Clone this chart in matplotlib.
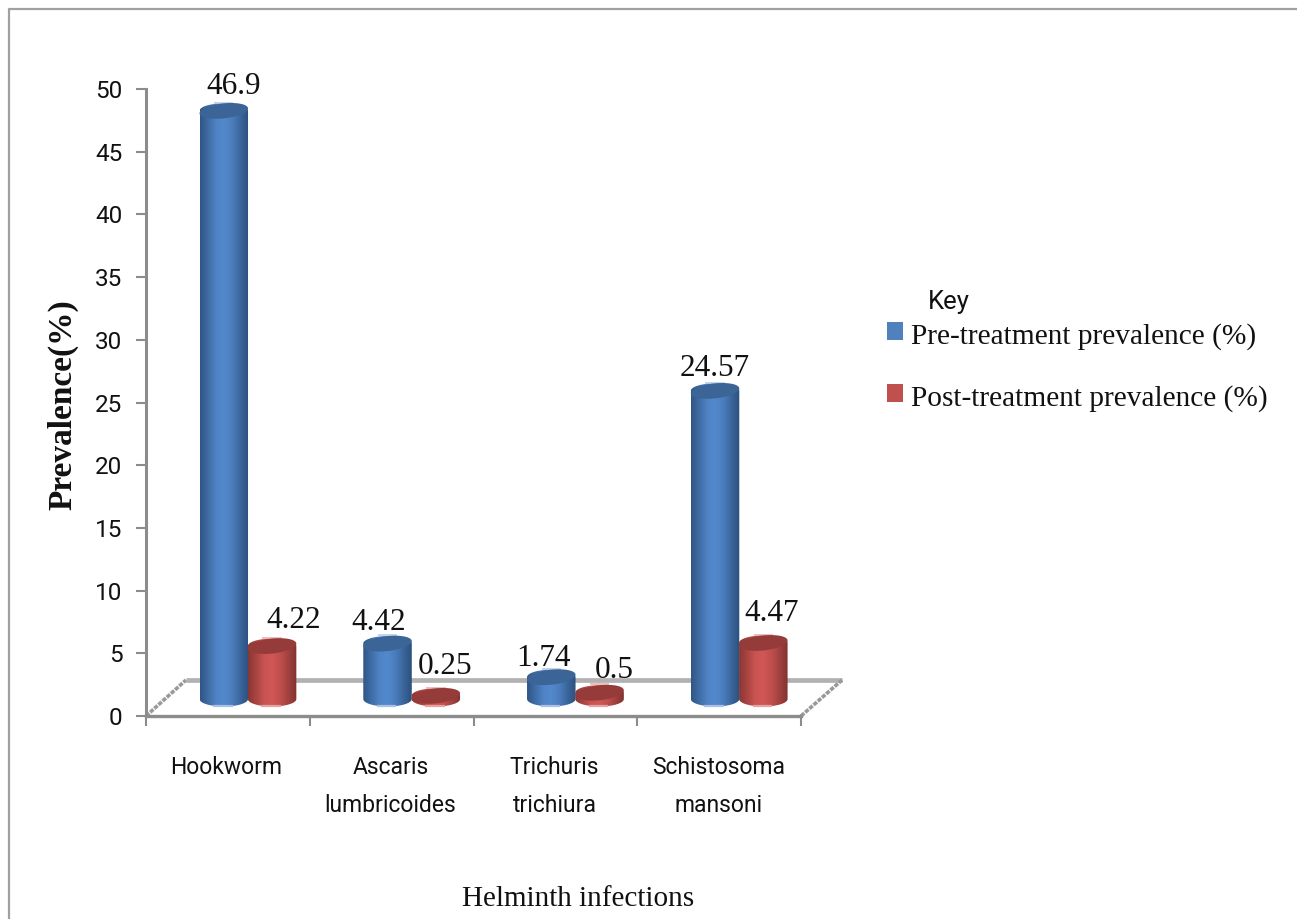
import numpy as np
import matplotlib
matplotlib.use("Agg")
import matplotlib.pyplot as plt
from matplotlib.colors import LinearSegmentedColormap
from matplotlib.lines import Line2D
from matplotlib.patches import Polygon, Rectangle

categories = ["Hookworm", "Ascaris\nlumbricoides", "Trichuris\ntrichiura", "Schistosoma\nmansoni"]
pre_treatment = [46.9, 4.42, 1.74, 24.57]
post_treatment = [4.22, 0.25, 0.5, 4.47]
series_names = ["Pre-treatment prevalence (%)", "Post-treatment prevalence (%)"]
y_ticks = list(range(0, 55, 5))

W, H = 1297, 919
SANS = "Roboto"
SERIF = "Liberation Serif"

fig = plt.figure(figsize=(W / 100, H / 100), dpi=100, facecolor="white")
L, R, T, B = 146, 801, 89, 716
ax = fig.add_axes([L / W, 1 - B / H, (R - L) / W, (B - T) / H])
ax.set_xlim(0, 4)
ax.set_ylim(0, 50)
ax.patch.set_alpha(0)
for s in ax.spines.values():
    s.set_visible(False)

px_x = 4 / (R - L)
px_y = 50 / (B - T)
BASE = 17 * px_y
BW = 48.5 * px_x
RY = 7.5 * px_y
TILT = 0.1 * px_y / px_x


def fx(px):
    return (px - L) * px_x


def fy(py):
    return (B - py) * px_y


# axes lines
ax.spines["left"].set_visible(True)
ax.spines["left"].set_color("#8c8c8c")
ax.spines["left"].set_linewidth(2.2)
ax.set_yticks(y_ticks)
ax.tick_params(axis="y", length=7, width=1.5, color="#8c8c8c", pad=10,
               labelsize=17.5, labelcolor="#111111")
for t in ax.get_yticklabels():
    t.set_fontfamily(SANS)
ax.set_xticks(range(5))
ax.set_xticklabels([])
ax.tick_params(axis="x", length=7, width=1.5, color="#8c8c8c")
ax.plot([0, 4], [0, 0], color="#8c8c8c", lw=2.4, clip_on=False, zorder=2)
ax.plot([fx(186), fx(842)], [fy(680), fy(680)], color="#b2b2b2", lw=3.4,
        clip_on=False, zorder=1, solid_capstyle="butt")
for x0, x1 in [(146, 186), (801, 842)]:
    ax.plot([fx(x0), fx(x1)], [fy(716), fy(680)], color="#9a9a9a", lw=2.6,
            ls=(0, (1.2, 0.35)), clip_on=False, zorder=1)

blue_cmap = LinearSegmentedColormap.from_list(
    "b", ["#2f5685", "#3f6da6", "#4f83c6", "#5289cd", "#4b7dbc", "#3a669c", "#2c507c"])
red_cmap = LinearSegmentedColormap.from_list(
    "r", ["#8a3735", "#ab4543", "#ca5452", "#d05755", "#bf4f4d", "#a14140", "#823331"])
grad = np.linspace(0, 1, 64).reshape(1, -1)
N = 60


def cylinder(cx, value, cmap, top_color, glint, z):
    x0, x1 = cx - BW / 2, cx + BW / 2
    y_top = BASE + value
    t = np.linspace(np.pi, 2 * np.pi, N)
    bx = cx + BW / 2 * np.cos(t)
    by = BASE + RY * np.sin(t)
    tt = t[::-1]
    ux = cx + BW / 2 * np.cos(tt)
    uy = y_top + RY * np.sin(tt) * -1
    pts = np.column_stack([np.r_[bx, ux], np.r_[by, uy]])
    body = Polygon(pts, closed=True, transform=ax.transData, fc="none", ec="none")
    ax.add_patch(body)
    im = ax.imshow(grad, cmap=cmap, extent=[x0, x1, BASE - RY, y_top + RY],
                   aspect="auto", zorder=z, interpolation="bilinear")
    im.set_clip_path(body)
    ax.plot([cx - BW * 0.22, cx + BW * 0.18], [BASE - RY * 0.97] * 2, color=glint,
            lw=1.6, zorder=z + 0.1, solid_capstyle="butt", clip_on=False)
    a = np.linspace(0, 2 * np.pi, 90)
    ex = cx + BW / 2 * np.cos(a)
    ey = y_top + RY * np.sin(a) + TILT * (ex - cx)
    ax.add_patch(Polygon(np.column_stack([ex, ey]), closed=True, fc=top_color,
                         ec="none", zorder=z + 0.2))
    ax.plot([cx - BW * 0.2, cx + BW * 0.2], [y_top + RY * 1.1] * 2, color=glint,
            lw=1.4, alpha=0.7, zorder=z + 0.1, solid_capstyle="butt", clip_on=False)


BLUE_OFF, RED_OFF = 0.475, 0.77
for i, (a, b) in enumerate(zip(pre_treatment, post_treatment)):
    cylinder(i + BLUE_OFF, a, blue_cmap, "#3a6596", "#a9c1e2", 3 + i)
    cylinder(i + RED_OFF, b, red_cmap, "#953b39", "#e2a5a4", 3.5 + i)
ax.set_xlim(0, 4)
ax.set_ylim(0, 50)

# value labels (pixel offsets from the cylinder's top, horizontal and vertical)
blue_shift = [(10, 24), (-9, 21), (-8, 19), (0, 22)]
red_shift = [(22, 26), (9, 29), (15, 22), (8, 29)]
for i in range(4):
    for vals, off, shift in [(pre_treatment, BLUE_OFF, blue_shift), (post_treatment, RED_OFF, red_shift)]:
        ax.annotate(str(vals[i]), (i + off, BASE + vals[i]), xytext=(shift[i][0] * 0.72, shift[i][1] * 0.72),
                    textcoords="offset points", ha="center", va="center",
                    fontsize=22.5, family=SERIF, color="#111111", zorder=20, annotation_clip=False)

# category labels
for i, c in enumerate(categories):
    for k, line in enumerate(c.split("\n")):
        fig.text((226 + 164.3 * i) / W, 1 - (768 + 37 * k) / H, line, ha="center", va="center", family=SANS,
                 fontsize=16.5, color="#111111")

# frame
fig.add_artist(Line2D([9 / W, 9 / W, 1], [0, 1 - 9 / H, 1 - 9 / H], color="#a0a0a0", lw=1.6))

# titles
fig.text(63 / W, 1 - 405 / H, "Prevalence(%)", rotation=90, ha="center", va="center",
         family=SERIF, fontsize=24, fontweight="bold", color="#111111")
fig.text(578 / W, 1 - 899 / H, "Helminth infections", ha="center", va="center",
         family=SERIF, fontsize=21, color="#111111")

# legend
fig.text(949 / W, 1 - 302 / H, "Key", ha="center", va="center", family=SANS,
         fontsize=18.5, color="#111111")
for name, col, yc in zip(series_names, ["#4f81bd", "#c0504d"], [336, 398]):
    fig.add_artist(Rectangle((887 / W, 1 - (yc + 4) / H), 16 / W, 18 / H, transform=fig.transFigure,
                             fc=col, ec="none"))
    fig.text(911 / W, 1 - (yc + 1) / H, name, ha="left", va="center", family=SERIF,
             fontsize=21.2, color="#111111")

fig.savefig("out.png", dpi=100, facecolor="white")
